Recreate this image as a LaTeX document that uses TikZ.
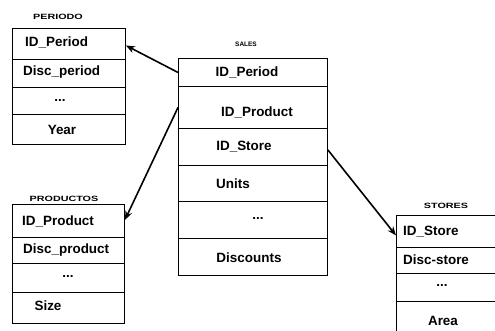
\documentclass[tikz,border=0pt]{standalone}
\usepackage{fontspec}
\setmainfont{Liberation Sans}
\usetikzlibrary{arrows.meta}
\begin{document}
\begin{tikzpicture}[x=1bp,y=-1bp,
  cell/.style={draw, line width=0.9bp, inner sep=0pt, anchor=north west},
  txt/.style={font=\fontsize{13.5}{13.5}\selectfont\bfseries, inner sep=0pt},
  ttl/.style={font=\fontsize{9}{9}\selectfont\bfseries, inner sep=0pt},
  link/.style={line width=1.6bp, -{Stealth[length=9bp,width=7bp]}}]
\useasboundingbox (0,0) rectangle (495,330);
\clip (0,0) rectangle (495,330);
% PERIODO
\node[ttl] (tper) at (58,17) {\scalebox{1.2}[0.85]{PERIODO}};
\node[cell, minimum width=113bp, minimum height=31bp] (p1) at (12,28) {};
\node[cell, minimum width=113bp, minimum height=28bp] (p2) at (12,59) {};
\node[cell, minimum width=113bp, minimum height=27bp] (p3) at (12,87) {};
\node[cell, minimum width=113bp, minimum height=30bp] (p4) at (12,114) {};
\node[txt, anchor=west] (pt1) at (25,42) {ID\_Period};
\node[txt, anchor=west] (pt2) at (23,72) {Disc\_period};
\node[txt] (pt3) at (60,100) {...};
\node[txt] (pt4) at (62,130) {Year};
% SALES
\node[ttl, font=\fontsize{6.5}{6.5}\selectfont\bfseries] (tsal) at (246,44) {SALES};
\node[cell, minimum width=149bp, minimum height=28bp] (s1) at (178,58) {};
\node[cell, minimum width=149bp, minimum height=42bp] (s2) at (178,86) {};
\node[cell, minimum width=149bp, minimum height=37bp] (s3) at (178,128) {};
\node[cell, minimum width=149bp, minimum height=36bp] (s4) at (178,165) {};
\node[cell, minimum width=149bp, minimum height=37bp] (s5) at (178,201) {};
\node[cell, minimum width=149bp, minimum height=37bp] (s6) at (178,238) {};
\node[txt] (st1) at (247,72) {ID\_Period};
\node[txt] (st2) at (257,112) {ID\_Product};
\node[txt] (st3) at (244,147) {ID\_Store};
\node[txt] (st4) at (233,184) {Units};
\node[txt] (st5) at (258,218) {...};
\node[txt] (st6) at (249,258) {Discounts};
% PRODUCTOS
\node[ttl] (tpro) at (64,199) {\scalebox{1.2}[0.85]{PRODUCTOS}};
\node[cell, minimum width=112bp, minimum height=33bp] (r1) at (12,204) {};
\node[cell, minimum width=112bp, minimum height=26bp] (r2) at (12,237) {};
\node[cell, minimum width=112bp, minimum height=29bp] (r3) at (12,263) {};
\node[cell, minimum width=112bp, minimum height=31bp] (r4) at (12,292) {};
\node[txt, anchor=west] (rt1) at (22,221) {ID\_Product};
\node[txt, anchor=west] (rt2) at (23,250) {Disc\_product};
\node[txt] (rt3) at (68,276) {...};
\node[txt] (rt4) at (48,306) {Size};
% STORES
\node[ttl] (tsto) at (446,206) {\scalebox{1.2}[0.85]{STORES}};
\node[cell, minimum width=110bp, minimum height=32bp] (q1) at (396,215) {};
\node[cell, minimum width=110bp, minimum height=26bp] (q2) at (396,247) {};
\node[cell, minimum width=110bp, minimum height=28bp] (q3) at (396,273) {};
\node[cell, minimum width=110bp, minimum height=40bp] (q4) at (396,301) {};
\node[txt, anchor=west] (qt1) at (403,232) {ID\_Store};
\node[txt, anchor=west] (qt2) at (403,260) {Disc-store};
\node[txt] (qt3) at (442,285) {...};
\node[txt] (qt4) at (443,321) {Area};
% links
\draw[link] (s1.west) -- ([yshift=-1.5bp]p1.east);
\draw[link] (s2.west) -- ([yshift=1bp]r1.east);
\draw[link] ([yshift=-3bp]s3.east) -- ([yshift=-4bp]q1.west);
\end{tikzpicture}
\end{document}
